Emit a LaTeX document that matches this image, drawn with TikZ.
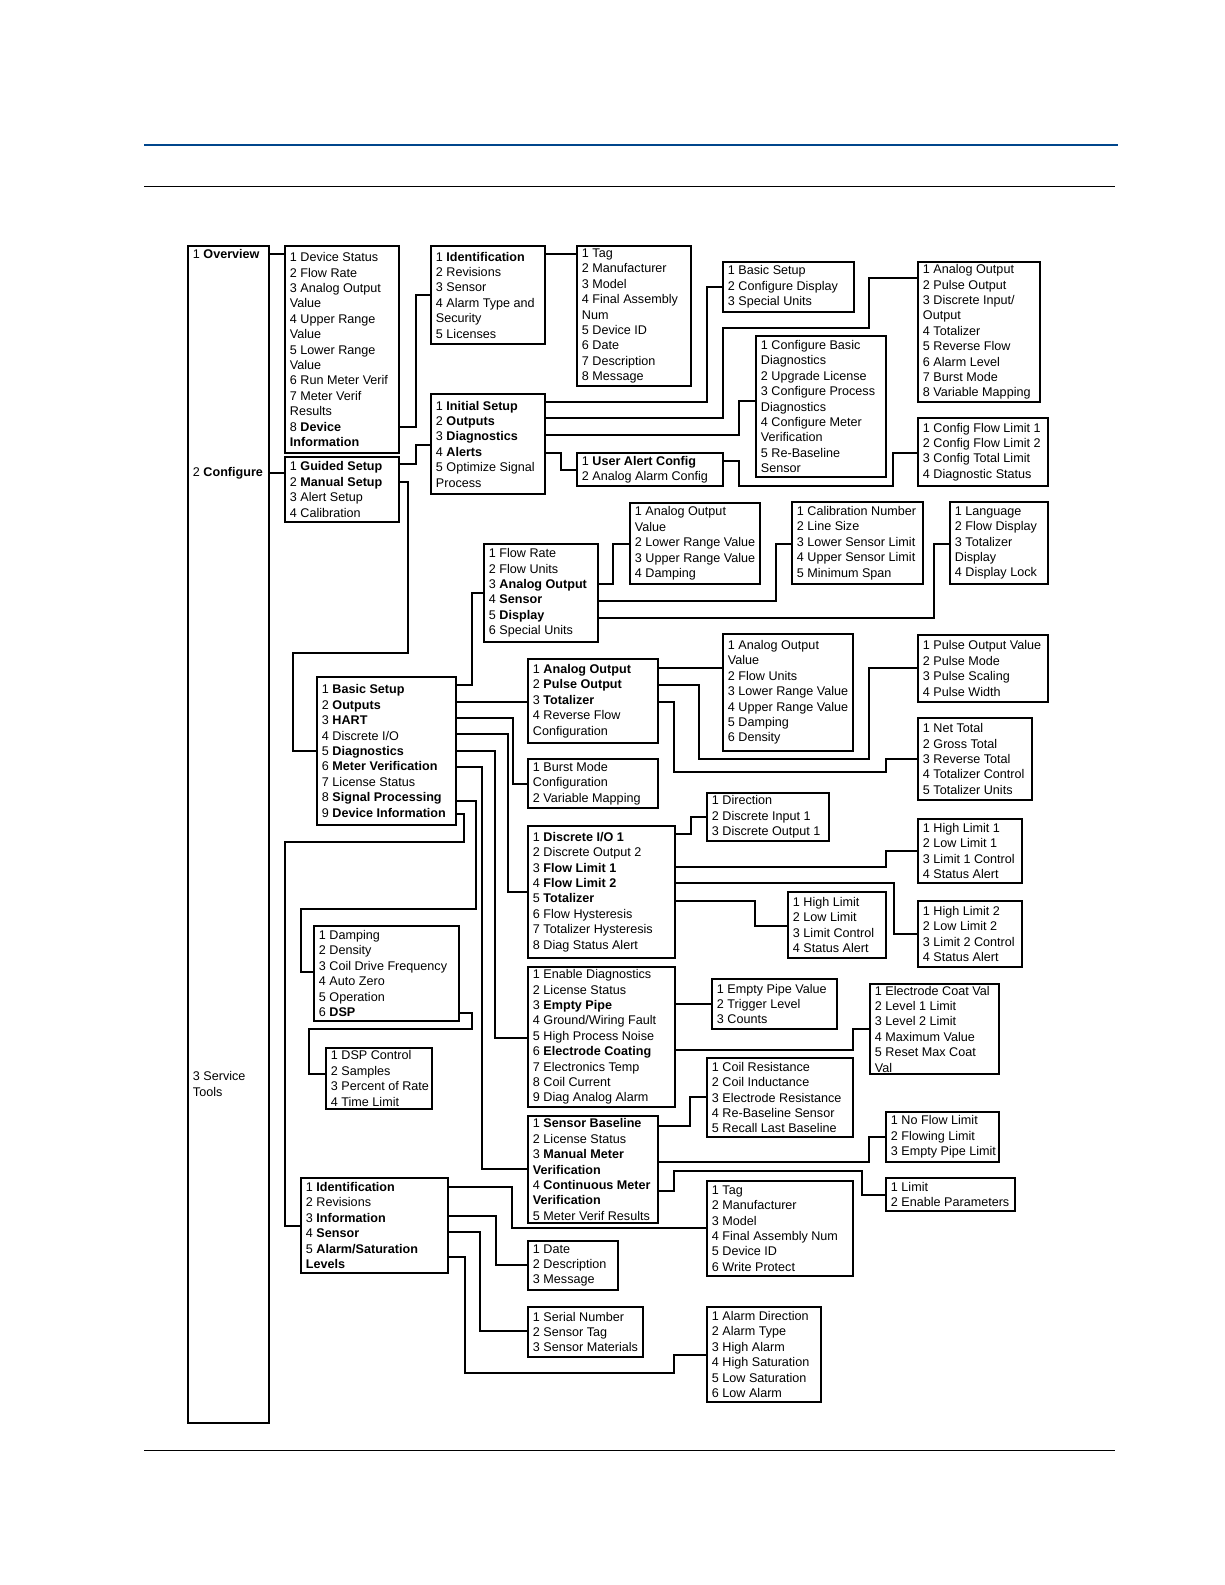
\documentclass[tikz,border=0pt]{standalone}
\usepackage{fontspec}
\setmainfont{Liberation Sans}
\usetikzlibrary{fit}
\definecolor{rulecol}{RGB}{0,70,140}

\begin{document}
\begin{tikzpicture}[x=0.5pt,y=-0.5pt,
		box/.style={draw,line width=0.65pt,inner sep=0pt},
		items/.style={anchor=west,align=left,inner xsep=2.6pt,inner ysep=0pt,font=\fontsize{6.3}{7.7}\selectfont},
		wire/.style={line width=0.55pt}]
	\fill[white] (0,0) rectangle (1225,1585);
	\useasboundingbox (0,0) rectangle (1225,1585);
	\draw[rulecol,line width=1pt] (144,144.5) -- (1118,144.5);
	\draw[line width=0.5pt] (144,186) -- (1115,186);
	\draw[line width=0.5pt] (144,1450) -- (1115,1450);

	% main column
	\node[box,fit={(188,246) (269,1423)}] (ov) {};
	\node[items] (ov-1) at (ov.west |- 0,254) {1 \textbf{Overview}};
	\node[items] (ov-2) at (ov.west |- 0,473) {2 \textbf{Configure}};
	\node[items] (ov-3) at (ov.west |- 0,1084) {3 Service\\Tools};

	% overview
	\node[box,fit={(285,246) (399,453)}] (ds) {};
	\node[items] (ds-t) at (ds.west) {1 Device Status\\2 Flow Rate\\3 Analog Output\\Value\\4 Upper Range\\Value\\5 Lower Range\\Value\\6 Run Meter Verif\\7 Meter Verif\\Results\\8 \textbf{Device}\\\textbf{Information}};
	\node[box,fit={(431,246) (545,344)}] (idn) {};
	\node[items] (idn-t) at (idn.west) {1 \textbf{Identification}\\2 Revisions\\3 Sensor\\4 Alarm Type and\\Security\\5 Licenses};
	\node[box,fit={(577,246) (691,386)}] (tag) {};
	\node[items] (tag-t) at (tag.west) {1 Tag\\2 Manufacturer\\3 Model\\4 Final Assembly\\Num\\5 Device ID\\6 Date\\7 Description\\8 Message};

	% configure
	\node[box,fit={(285,457) (399,522)}] (gs) {};
	\node[items] (gs-t) at (gs.west) {1 \textbf{Guided Setup}\\2 \textbf{Manual Setup}\\3 Alert Setup\\4 Calibration};
	\node[box,fit={(431,394) (545,494)}] (is) {};
	\node[items] (is-t) at (is.west) {1 \textbf{Initial Setup}\\2 \textbf{Outputs}\\3 \textbf{Diagnostics}\\4 \textbf{Alerts}\\5 Optimize Signal\\Process};
	\node[box,fit={(723,262) (854,312)}] (bsg) {};
	\node[items] (bsg-t) at (bsg.west) {1 Basic Setup\\2 Configure Display\\3 Special Units};
	\node[box,fit={(918,262) (1040,402)}] (aog) {};
	\node[items] (aog-t) at (aog.west) {1 Analog Output\\2 Pulse Output\\3 Discrete Input/\\Output\\4 Totalizer\\5 Reverse Flow\\6 Alarm Level\\7 Burst Mode\\8 Variable Mapping};
	\node[box,fit={(756,336) (886,477)}] (cbd) {};
	\node[items] (cbd-t) at (cbd.west) {1 Configure Basic\\Diagnostics\\2 Upgrade License\\3 Configure Process\\Diagnostics\\4 Configure Meter\\Verification\\5 Re-Baseline\\Sensor};
	\node[box,fit={(577,453) (723,486)}] (uac) {};
	\node[items] (uac-t) at (uac.west) {1 \textbf{User Alert Config}\\2 Analog Alarm Config};
	\node[box,fit={(918,418) (1048,486)}] (cfl) {};
	\node[items] (cfl-t) at (cfl.west) {1 Config Flow Limit 1\\2 Config Flow Limit 2\\3 Config Total Limit\\4 Diagnostic Status};

	% manual setup
	\node[box,fit={(317,677) (456,825)}] (ms) {};
	\node[items] (ms-t) at (ms.west) {1 \textbf{Basic Setup}\\2 \textbf{Outputs}\\3 \textbf{HART}\\4 Discrete I/O\\5 \textbf{Diagnostics}\\6 \textbf{Meter Verification}\\7 License Status\\8 \textbf{Signal Processing}\\9 \textbf{Device Information}};
	\node[box,fit={(484,544) (598,642)}] (fr) {};
	\node[items] (fr-t) at (fr.west) {1 Flow Rate\\2 Flow Units\\3 \textbf{Analog Output}\\4 \textbf{Sensor}\\5 \textbf{Display}\\6 Special Units};
	\node[box,fit={(630,503) (760,584)}] (aov) {};
	\node[items] (aov-t) at (aov.west) {1 Analog Output\\Value\\2 Lower Range Value\\3 Upper Range Value\\4 Damping};
	\node[box,fit={(792,502) (923,584)}] (cal) {};
	\node[items] (cal-t) at (cal.west) {1 Calibration Number\\2 Line Size\\3 Lower Sensor Limit\\4 Upper Sensor Limit\\5 Minimum Span};
	\node[box,fit={(950,502) (1048,584)}] (lang) {};
	\node[items] (lang-t) at (lang.west) {1 Language\\2 Flow Display\\3 Totalizer\\Display\\4 Display Lock};
	\node[box,fit={(528,659) (658,743)}] (out) {};
	\node[items] (out-t) at (out.west) {1 \textbf{Analog Output}\\2 \textbf{Pulse Output}\\3 \textbf{Totalizer}\\4 Reverse Flow\\Configuration};
	\node[box,fit={(723,634) (853,751)}] (aoo) {};
	\node[items] (aoo-t) at (aoo.west) {1 Analog Output\\Value\\2 Flow Units\\3 Lower Range Value\\4 Upper Range Value\\5 Damping\\6 Density};
	\node[box,fit={(918,635) (1048,702)}] (pov) {};
	\node[items] (pov-t) at (pov.west) {1 Pulse Output Value\\2 Pulse Mode\\3 Pulse Scaling\\4 Pulse Width};
	\node[box,fit={(918,718) (1032,800)}] (net) {};
	\node[items] (net-t) at (net.west) {1 Net Total\\2 Gross Total\\3 Reverse Total\\4 Totalizer Control\\5 Totalizer Units};
	\node[box,fit={(528,759) (658,808)}] (bm) {};
	\node[items] (bm-t) at (bm.west) {1 Burst Mode\\Configuration\\2 Variable Mapping};
	\node[box,fit={(528,826) (675,958)}] (dio) {};
	\node[items] (dio-t) at (dio.west) {1 \textbf{Discrete I/O 1}\\2 Discrete Output 2\\3 \textbf{Flow Limit 1}\\4 \textbf{Flow Limit 2}\\5 \textbf{Totalizer}\\6 Flow Hysteresis\\7 Totalizer Hysteresis\\8 Diag Status Alert};
	\node[box,fit={(707,793) (829,841)}] (dir) {};
	\node[items] (dir-t) at (dir.west) {1 Direction\\2 Discrete Input 1\\3 Discrete Output 1};
	\node[box,fit={(918,819) (1022,883)}] (hl1) {};
	\node[items] (hl1-t) at (hl1.west) {1 High Limit 1\\2 Low Limit 1\\3 Limit 1 Control\\4 Status Alert};
	\node[box,fit={(918,901) (1022,967)}] (hl2) {};
	\node[items] (hl2-t) at (hl2.west) {1 High Limit 2\\2 Low Limit 2\\3 Limit 2 Control\\4 Status Alert};
	\node[box,fit={(788,892) (886,958)}] (hl) {};
	\node[items] (hl-t) at (hl.west) {1 High Limit\\2 Low Limit\\3 Limit Control\\4 Status Alert};
	\node[box,fit={(528,967) (675,1107)}] (ed) {};
	\node[items] (ed-t) at (ed.west) {1 Enable Diagnostics\\2 License Status\\3 \textbf{Empty Pipe}\\4 Ground/Wiring Fault\\5 High Process Noise\\6 \textbf{Electrode Coating}\\7 Electronics Temp\\8 Coil Current\\9 Diag Analog Alarm};
	\node[box,fit={(712,979) (837,1029)}] (epv) {};
	\node[items] (epv-t) at (epv.west) {1 Empty Pipe Value\\2 Trigger Level\\3 Counts};
	\node[box,fit={(870,984) (999,1074)}] (ecv) {};
	\node[items] (ecv-t) at (ecv.west) {1 Electrode Coat Val\\2 Level 1 Limit\\3 Level 2 Limit\\4 Maximum Value\\5 Reset Max Coat\\Val};
	\node[box,fit={(707,1058) (853,1137)}] (coil) {};
	\node[items] (coil-t) at (coil.west) {1 Coil Resistance\\2 Coil Inductance\\3 Electrode Resistance\\4 Re-Baseline Sensor\\5 Recall Last Baseline};
	\node[box,fit={(528,1116) (658,1223)}] (sb) {};
	\node[items] (sb-t) at (sb.west) {1 \textbf{Sensor Baseline}\\2 License Status\\3 \textbf{Manual Meter}\\\textbf{Verification}\\4 \textbf{Continuous Meter}\\\textbf{Verification}\\5 Meter Verif Results};
	\node[box,fit={(886,1112) (999,1162)}] (nfl) {};
	\node[items] (nfl-t) at (nfl.west) {1 No Flow Limit\\2 Flowing Limit\\3 Empty Pipe Limit};
	\node[box,fit={(886,1178) (1015,1211)}] (lim) {};
	\node[items] (lim-t) at (lim.west) {1 Limit\\2 Enable Parameters};

	% service tools
	\node[box,fit={(314,926) (459,1021)}] (dmp) {};
	\node[items] (dmp-t) at (dmp.west) {1 Damping\\2 Density\\3 Coil Drive Frequency\\4 Auto Zero\\5 Operation\\6 \textbf{DSP}};
	\node[box,fit={(326,1048) (432,1109)}] (dsp) {};
	\node[items] (dsp-t) at (dsp.west) {1 DSP Control\\2 Samples\\3 Percent of Rate\\4 Time Limit};
	\node[box,fit={(301,1178) (448,1273)}] (sid) {};
	\node[items] (sid-t) at (sid.west) {1 \textbf{Identification}\\2 Revisions\\3 \textbf{Information}\\4 \textbf{Sensor}\\5 \textbf{Alarm/Saturation}\\\textbf{Levels}};
	\node[box,fit={(707,1181) (853,1276)}] (stag) {};
	\node[items] (stag-t) at (stag.west) {1 Tag\\2 Manufacturer\\3 Model\\4 Final Assembly Num\\5 Device ID\\6 Write Protect};
	\node[box,fit={(528,1241) (618,1290)}] (date) {};
	\node[items] (date-t) at (date.west) {1 Date\\2 Description\\3 Message};
	\node[box,fit={(528,1307) (643,1357)}] (ser) {};
	\node[items] (ser-t) at (ser.west) {1 Serial Number\\2 Sensor Tag\\3 Sensor Materials};
	\node[box,fit={(707,1307) (821,1402)}] (alm) {};
	\node[items] (alm-t) at (alm.west) {1 Alarm Direction\\2 Alarm Type\\3 High Alarm\\4 High Saturation\\5 Low Saturation\\6 Low Alarm};

	% connectors
	\draw[wire] (ov.east |- 0,254) -- (ds.west |- 0,254);
	\draw[wire] (ov.east |- 0,473) -- (gs.west |- 0,473);
	\draw[wire] (ds.east |- 0,427) -| (416,295) -- (idn.west |- 0,295);
	\draw[wire] (idn.east |- 0,254) -- (tag.west |- 0,254);
	\draw[wire] (gs.east |- 0,464) -| (416,445) -- (is.west |- 0,445);
	\draw[wire] (gs.east |- 0,482) -| (408,653) -| (293,751) -- (ms.west |- 0,751);
	\draw[wire] (is.east |- 0,402) -| (707,287) -- (bsg.west |- 0,287);
	\draw[wire] (is.east |- 0,418) -| (723,328) -| (869,278) -- (aog.west |- 0,278);
	\draw[wire] (is.east |- 0,435) -| (739,401) -- (cbd.west |- 0,401);
	\draw[wire] (is.east |- 0,453) -| (561,470) -- (uac.west |- 0,470);
	\draw[wire] (uac.east |- 0,461) -| (739,486) -| (893,453) -- (cfl.west |- 0,453);
	\draw[wire] (ms.east |- 0,685) -| (472,593) -- (fr.west |- 0,593);
	\draw[wire] (ms.east |- 0,702) -- (out.west |- 0,702);
	\draw[wire] (ms.east |- 0,718) -| (513,784) -- (bm.west |- 0,784);
	\draw[wire] (ms.east |- 0,734) -| (508,892) -- (dio.west |- 0,892);
	\draw[wire] (ms.east |- 0,751) -| (495,1038) -- (ed.west |- 0,1038);
	\draw[wire] (ms.east |- 0,767) -| (482,1169) -- (sb.west |- 0,1169);
	\draw[wire] (ms.east |- 0,801) -| (476,909) -| (301,972) -- (dmp.west |- 0,972);
	\draw[wire] (ms.east |- 0,814) -| (464,842) -| (285,1226) -- (sid.west |- 0,1226);
	\draw[wire] (fr.east |- 0,584) -| (613,544) -- (aov.west |- 0,544);
	\draw[wire] (fr.east |- 0,601) -| (776,544) -- (cal.west |- 0,544);
	\draw[wire] (fr.east |- 0,618) -| (934,544) -- (lang.west |- 0,544);
	\draw[wire] (out.east |- 0,668) -- (aoo.west |- 0,668);
	\draw[wire] (out.east |- 0,685) -| (699,759) -| (869,668) -- (pov.west |- 0,668);
	\draw[wire] (out.east |- 0,702) -| (674,772) -| (886,759) -- (net.west |- 0,759);
	\draw[wire] (dio.east |- 0,834) -| (691,817) -- (dir.west |- 0,817);
	\draw[wire] (dio.east |- 0,867) -| (886,851) -- (hl1.west |- 0,851);
	\draw[wire] (dio.east |- 0,883) -| (894,934) -- (hl2.west |- 0,934);
	\draw[wire] (dio.east |- 0,901) -| (755,926) -- (hl.west |- 0,926);
	\draw[wire] (ed.east |- 0,1004) -- (epv.west |- 0,1004);
	\draw[wire] (ed.east |- 0,1050) -| (853,1029) -- (ecv.west |- 0,1029);
	\draw[wire] (sb.east |- 0,1126) -| (690,1097) -- (coil.west |- 0,1097);
	\draw[wire] (sb.east |- 0,1162) -| (869,1137) -- (nfl.west |- 0,1137);
	\draw[wire] (sb.east |- 0,1191) -| (674,1171) -| (862,1195) -- (lim.west |- 0,1195);
	\draw[wire] (dmp.east |- 0,1013) -| (472,1029) -| (309,1074) -- (dsp.west |- 0,1074);
	\draw[wire] (sid.east |- 0,1187) -| (512,1228) -- (stag.west |- 0,1228);
	\draw[wire] (sid.east |- 0,1216) -| (496,1265) -- (date.west |- 0,1265);
	\draw[wire] (sid.east |- 0,1232) -| (480,1331) -- (ser.west |- 0,1331);
	\draw[wire] (sid.east |- 0,1257) -| (465,1373) -| (674,1355) -- (alm.west |- 0,1355);
\end{tikzpicture}
\end{document}
